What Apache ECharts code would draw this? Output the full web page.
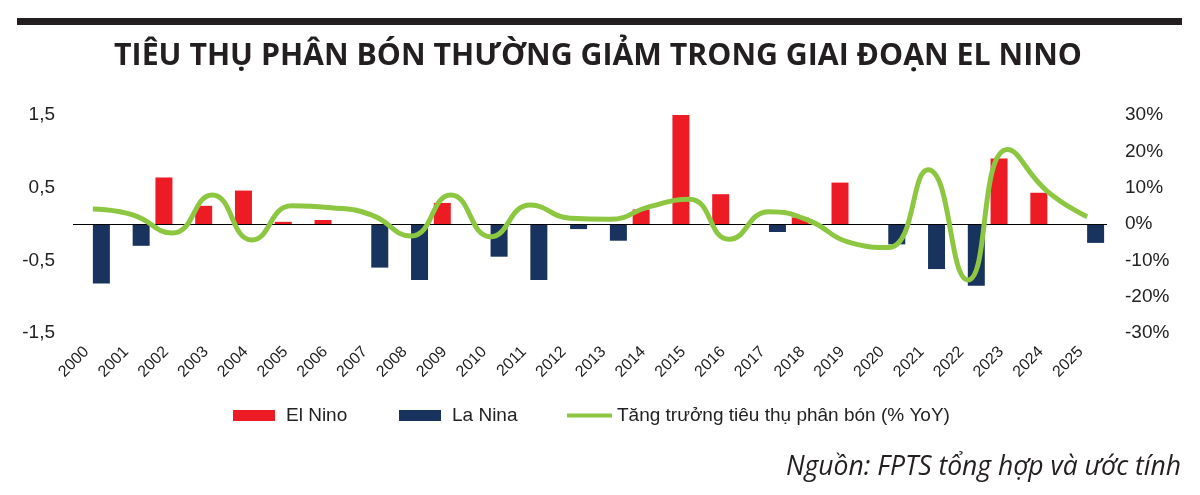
<!DOCTYPE html>
<html>
<head>
<meta charset="utf-8">
<script src="https://cdn.jsdelivr.net/npm/echarts@6/dist/echarts.min.js"></script>
<style>
html,body{margin:0;padding:0;background:#fff;}
#c{width:1200px;height:495px;}
</style>
</head>
<body>
<div id="c"></div>
<script>
const years = ['2000','2001','2002','2003','2004','2005','2006','2007','2008','2009','2010','2011','2012','2013','2014','2015','2016','2017','2018','2019','2020','2021','2022','2023','2024','2025'];
const elNino = [null,null,0.64,0.25,0.46,0.03,0.055,null,null,0.29,null,null,null,null,0.2,1.5,0.41,null,0.09,0.57,null,null,null,0.90,0.43,null];
const laNina = [-0.82,-0.30,null,null,null,null,null,-0.60,-0.77,null,-0.45,-0.77,-0.07,-0.23,null,null,null,-0.11,null,null,-0.28,-0.62,-0.85,null,null,-0.26];
const growth = [4.1,2.5,-2.5,8,-4.4,5,4.5,2.5,-3.3,8,-3.5,5.2,1.6,1.3,4.8,6.8,-4.2,3.4,1,-5,-6.5,14.9,-15.4,20.5,9,2];
const titleText = 'TIÊU THỤ PHÂN BÓN THƯỜNG GIẢM TRONG GIAI ĐOẠN EL NINO';
const sourceText = 'Nguồn: FPTS tổng hợp và ước tính';
const names = ['El Nino','La Nina','Tăng trưởng tiêu thụ phân bón (% YoY)'];

const RED = '#ed1c24', NAVY = '#17335e', GREEN = '#8dc641', TXT = '#231f20';
const chart = echarts.init(document.getElementById('c'), null, {renderer:'canvas'});
const legendText = {fontFamily:'Liberation Sans, Arial', fontSize:19, color:'#222'};
chart.setOption({
  animation:false,
  backgroundColor:'#fff',
  graphic:[
    {type:'rect', shape:{x:17,y:18,width:1165,height:7}, style:{fill:TXT}},
    {type:'text', x:598, y:56, style:{text:titleText, fill:TXT, font:'bold 30.3px "Open Sans"', textAlign:'center', textVerticalAlign:'middle'}},
    {type:'text', x:1181, y:467, style:{text:sourceText, fill:TXT, font:'italic 26.5px "Open Sans"', textAlign:'right', textVerticalAlign:'middle'}}
  ],
  grid:{left:73, right:93, top:115, bottom:162, outerBoundsMode:'none'},
  legend:[
    {data:[{name:names[0], icon:'rect'}], left:228, top:401, itemWidth:42, itemHeight:11, textStyle:Object.assign({padding:[0,0,0,6]},legendText), selectedMode:false},
    {data:[{name:names[1], icon:'rect'}], left:394, top:401, itemWidth:42, itemHeight:11, textStyle:Object.assign({padding:[0,0,0,6]},legendText), selectedMode:false},
    {data:[{name:names[2], icon:'rect'}], left:562, top:401, itemWidth:45, itemHeight:4, textStyle:legendText, selectedMode:false}
  ],
  xAxis:{
    type:'category', data:years,
    axisLine:{show:false, onZero:false}, axisTick:{show:false},
    axisLabel:{rotate:45, margin:10, padding:[0,9,0,0], interval:0, fontFamily:'Liberation Sans, Arial', fontSize:16, color:'#222'}
  },
  yAxis:[
    {type:'value', min:-1.5, max:1.5, interval:1, splitLine:{show:false}, axisLine:{show:false}, axisTick:{show:false},
     axisLabel:{margin:18, fontFamily:'Liberation Sans, Arial', fontSize:19, color:'#222', formatter:v=>String(v).replace('.',',')}},
    {type:'value', min:-30, max:30, interval:10, position:'right', splitLine:{show:false}, axisLine:{show:false}, axisTick:{show:false},
     axisLabel:{margin:18, fontFamily:'Liberation Sans, Arial', fontSize:19, color:'#222', formatter:'{value}%'}}
  ],
  series:[
    {name:names[0], type:'bar', data:elNino, barWidth:17, barGap:'0%', itemStyle:{color:RED},
     markLine:{silent:true, symbol:'none', label:{show:false}, lineStyle:{color:'#000', width:1.2, type:'solid'}, data:[{yAxis:0}]}},
    {name:names[1], type:'bar', data:laNina, barWidth:17, barGap:'0%', itemStyle:{color:NAVY}},
    {name:names[2], type:'line', yAxisIndex:1, data:growth, smooth:0.5, showSymbol:false, symbol:'none',
     lineStyle:{color:GREEN, width:5}, itemStyle:{color:GREEN}, z:5}
  ]
});
</script>
</body>
</html>
